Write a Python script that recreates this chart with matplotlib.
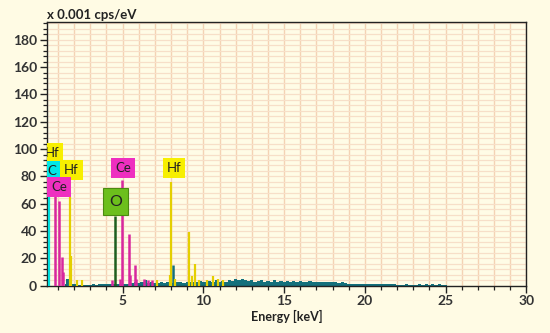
import numpy as np
import matplotlib
matplotlib.use("Agg")
import matplotlib.pyplot as plt
from matplotlib.ticker import MultipleLocator

plt.rcParams['font.family'] = ['Lato', 'DejaVu Sans']

# Continuum (x 0.001 cps/eV), bins of 0.2 keV starting at 1.4 keV
cont_start, cont_step = 1.4, 0.2
cont_vals = [
    1, 5, 1, 1, 0.5, 0.5, 0.5, 0.8, 0.5, 1,
    0.8, 1.2, 1, 1.5, 1, 1.2, 1, 1.5, 1.2, 1.5,
    1.3, 1.8, 2.5, 2, 2.5, 4, 2, 3, 2, 2,
    2.5, 2, 2.5, 2, 2.2, 2.5, 3, 2, 3, 2.5,
    3, 2.5, 3.5, 3, 2.5, 3.5, 3, 4, 3, 3.5,
    3, 4, 3.5, 5, 4.5, 5, 4, 3.5, 4, 3,
    3.5, 4, 3, 3.5, 3, 4, 3, 3.5, 3, 3.5,
    3, 3.5, 3, 3.5, 3, 3, 3.5, 3, 2.5, 3,
    2.5, 3, 2.5, 2.5, 3, 2, 3, 2, 1.5, 1.5,
    1.2, 1, 1.5, 1.2, 1.5, 1.2, 1.5, 1, 1.2, 1.5,
    1, 1, 1.5, 0.5, 0.8, 0.5, 1, 0.5, 0.8, 0.5,
    1, 0.5, 1, 0.8, 1, 0.5, 1, 0.5, 0.3, 0,
]
cont_energy = cont_start + cont_step * np.arange(len(cont_vals))

# Peak lines per element
ce_e = [0.83, 1.07, 1.24, 1.30, 4.35, 4.85, 4.98, 5.39, 5.45, 5.76, 5.82, 6.30, 6.60, 6.80]
ce_h = [66, 62, 21, 10, 4, 5, 77, 38, 8, 15, 5, 5, 4, 4]
hf_e = [1.75, 1.82, 2.20, 2.50, 7.13, 7.95, 8.02, 8.25, 9.13, 9.30, 9.46, 9.75, 10.2, 10.6, 10.9, 11.2]
hf_h = [65, 22, 4, 4, 4, 8, 76, 5, 39, 7, 16, 4, 4, 7, 5, 4]
c_e = [0.46]
c_h = [65]
o_e = [4.50]
o_h = [51]
bg_e = [1.60, 8.10]
bg_h = [5, 15]

# Element labels: text, energy, height
lab_text = ['Hf', 'C', 'Hf', 'Ce', 'Ce', 'O', 'Hf']
lab_e = [0.62, 0.62, 1.82, 1.07, 5.04, 4.55, 8.17]
lab_y = [97, 84, 85, 72, 86, 61.5, 86]
lab_col = ['#f7ef00', '#00e8e8', '#f7ef00', '#ee2fc0', '#ee2fc0', '#6cbf1c', '#f7ef00']

fig = plt.figure(figsize=(5.5, 3.33), dpi=100)
fig.patch.set_facecolor('#fffbe4')
ax = fig.add_axes([0.085, 0.142, 0.872, 0.792])
ax.set_facecolor('#fffce6')

ax.set_xlim(0.3, 30)
ax.set_ylim(0, 193)

ax.xaxis.set_major_locator(MultipleLocator(5))
ax.xaxis.set_minor_locator(MultipleLocator(1))
ax.yaxis.set_major_locator(MultipleLocator(20))
ax.yaxis.set_minor_locator(MultipleLocator(4))
ax.grid(which='both', axis='x', color='#f4d3b4', linewidth=1.0)
ax.grid(which='both', axis='y', color='#f7dfc8', linewidth=0.9)
ax.set_axisbelow(True)

ax.fill_between(cont_energy, 0, cont_vals, step='mid', color='#14707c', linewidth=0, zorder=2)
ax.vlines(bg_e, 0, bg_h, color='#14707c', linewidth=1.8, zorder=3)
ax.vlines(ce_e, 0, ce_h, color='#d8279e', linewidth=1.8, zorder=3)
ax.vlines(hf_e, 0, hf_h, color='#e4cf00', linewidth=1.6, zorder=3)
ax.vlines(c_e, 0, c_h, color='#00dede', linewidth=1.6, zorder=3)
ax.vlines(o_e, 0, o_h, color='#1e5e1e', linewidth=1.8, zorder=3)

for t, e, y, c in zip(lab_text, lab_e, lab_y, lab_col):
    big = (t == 'O')
    ax.text(e, y, t, ha='center', va='center', fontsize=11.5 if big else 9.5,
            color='#222222', zorder=5, clip_on=True,
            bbox=dict(boxstyle='square,pad=0.3' if not big else 'square,pad=0.4',
                      facecolor=c, edgecolor='#4a8a10' if big else 'none', linewidth=0.8))

for s in ax.spines.values():
    s.set_color('#222222')
    s.set_linewidth(1.0)

ax.tick_params(which='major', direction='out', length=5, width=1, colors='#222222',
               labelsize=10, pad=2)
ax.tick_params(which='minor', direction='out', length=3, width=0.9, colors='#222222')
for lbl in ax.get_xticklabels() + ax.get_yticklabels():
    lbl.set_fontweight('bold')
    lbl.set_color('#333333')

ax.set_xlabel('Energy [keV]', fontsize=9, fontweight='bold', color='#222222', labelpad=2)
fig.text(0.085, 0.955, 'x 0.001 cps/eV', fontsize=9.5, fontweight='bold', color='#222222',
         ha='left', va='center')

fig.savefig('out.png', dpi=100, facecolor=fig.get_facecolor())
